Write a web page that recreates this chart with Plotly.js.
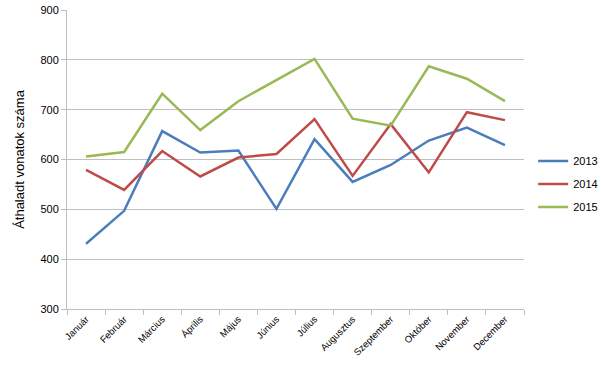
<!DOCTYPE html>
<html>
<head>
<meta charset="utf-8">
<script src="https://cdn.plot.ly/plotly-3.0.1.min.js"></script>
<style>html,body{margin:0;padding:0;background:#fff;}#chart{width:601px;height:367px;}</style>
</head>
<body>
<div id="chart"></div>
<script>
const months = ["Január","Február","Március","Április","Május","Június","Július","Augusztus","Szeptember","Október","November","December"];
const s2013 = [431, 497, 657, 614, 618, 501, 641, 555, 589, 638, 664, 629];
const s2014 = [579, 539, 617, 566, 604, 611, 681, 567, 671, 574, 695, 679];
const s2015 = [606, 615, 732, 659, 717, 760, 802, 682, 668, 787, 762, 717];
const seriesNames = ["2013","2014","2015"];
const colors = ["#4a7ebb","#be4b48","#98b954"];
const allSeries = [s2013, s2014, s2015];

const traces = allSeries.map((vals, i) => ({
  x: months, y: vals, type: "scatter", mode: "lines", name: seriesNames[i],
  legendgroup: "g" + i,
  line: {color: colors[i], width: 2.5}
}));

const layout = {
  width: 601, height: 367,
  margin: {l: 67, r: 77, t: 10, b: 58, autoexpand: false},
  paper_bgcolor: "#fff", plot_bgcolor: "#fff",
  font: {family: "Liberation Sans, Arial, sans-serif", color: "#000"},
  showlegend: true,
  legend: {x: 1.02, xanchor: "left", y: 0.418, yanchor: "middle", font: {size: 11, color: "#000"},
           tracegroupgap: 4, bgcolor: "rgba(0,0,0,0)", itemwidth: 30},
  xaxis: {
    type: "category", tickangle: -45, tickfont: {size: 9.5, color: "#000"},
    showgrid: false, showline: true, linecolor: "#bfbfbf", linewidth: 1,
    ticks: "outside", ticklen: 5, tickcolor: "#bfbfbf", tickson: "boundaries",
    zeroline: false, range: [-0.5, 11.5]
  },
  yaxis: {
    range: [300, 900], dtick: 100, tick0: 300,
    tickfont: {size: 11, color: "#000"},
    showgrid: true, gridcolor: "#bfbfbf", gridwidth: 1,
    showline: true, linecolor: "#bfbfbf", linewidth: 1,
    ticks: "outside", ticklen: 5, tickcolor: "#bfbfbf",
    zeroline: false,
    title: {text: "Áthaladt vonatok száma", font: {size: 13, color: "#000"}, standoff: 12}
  }
};

Plotly.newPlot("chart", traces, layout, {displayModeBar: false, staticPlot: true});
</script>
</body>
</html>
